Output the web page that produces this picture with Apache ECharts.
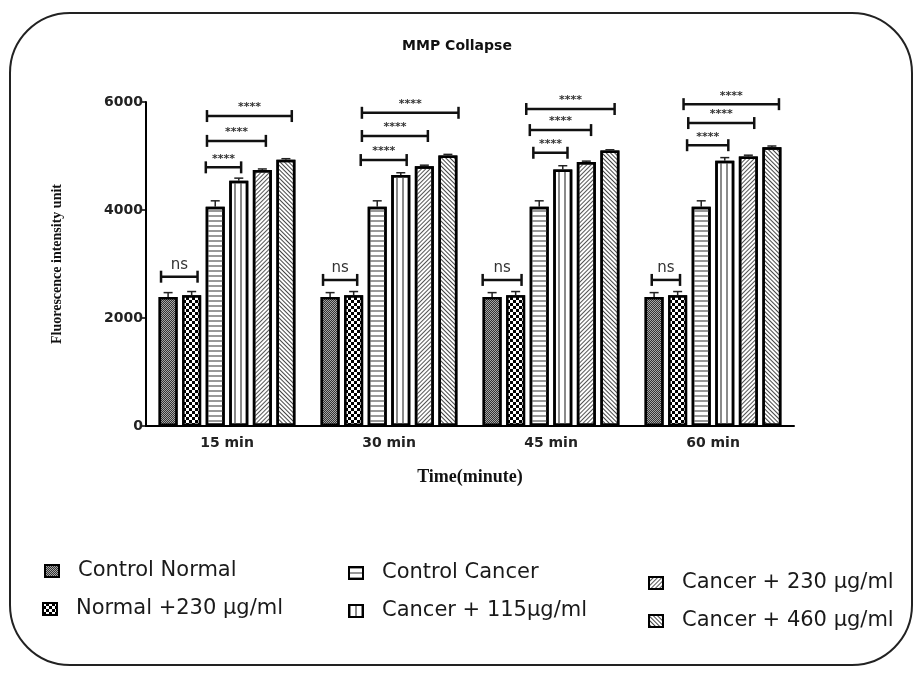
<!DOCTYPE html>
<html>
<head>
<meta charset="utf-8">
<script src="https://cdn.jsdelivr.net/npm/echarts@6/dist/echarts.min.js"></script>
<style>html,body{margin:0;padding:0;background:#fff;}#c{width:914px;height:673px;}</style>
</head>
<body>
<div id="c"></div>
<script>
// ---- data ----
const categories = ['15 min', '30 min', '45 min', '60 min'];
const seriesNames = ['Control Normal', 'Normal +230 \u03bcg/ml', 'Control Cancer', 'Cancer + 115\u03bcg/ml', 'Cancer + 230 \u03bcg/ml', 'Cancer + 460 \u03bcg/ml'];
const controlNormal = [2390, 2390, 2390, 2390];
const normal230 = [2420, 2420, 2420, 2420];
const controlCancer = [4060, 4060, 4060, 4060];
const cancer115 = [4540, 4650, 4750, 4910];
const cancer230 = [4740, 4810, 4890, 4990];
const cancer460 = [4930, 5010, 5100, 5160];
const errControlNormal = [80, 80, 80, 80];
const errNormal230 = [70, 70, 70, 70];
const errControlCancer = [110, 110, 110, 110];
const errCancer115 = [50, 40, 70, 60];
const errCancer230 = [20, 20, 15, 25];
const errCancer460 = [20, 20, 15, 25];
const yTicks = [0, 2000, 4000, 6000];
// significance brackets: group index, start/end (in bar slots), height (y value), label
const bracketGroup = [0, 0, 0, 0, 1, 1, 1, 1, 2, 2, 2, 2, 3, 3, 3, 3];
const bracketFrom = [-0.3, 1.6, 1.65, 1.65, -0.3, 1.3, 1.35, 1.35, -0.4, 1.75, 1.6, 1.45, -0.1, 1.4, 1.45, 1.25];
const bracketTo = [1.25, 3.1, 4.15, 5.25, 1.15, 3.25, 4.15, 5.45, 1.25, 3.2, 4.2, 5.2, 1.1, 3.15, 4.25, 5.3];
const bracketY = [2765, 4790, 5280, 5740, 2705, 4925, 5370, 5800, 2705, 5060, 5480, 5870, 2705, 5200, 5610, 5960];
const bracketText = ['ns', '****', '****', '****', 'ns', '****', '****', '****', 'ns', '****', '****', '****', 'ns', '****', '****', '****'];

const values = [controlNormal, normal230, controlCancer, cancer115, cancer230, cancer460];
const errors = [errControlNormal, errNormal230, errControlCancer, errCancer115, errCancer230, errCancer460];

// ---- styles ----
const BAR_W = 19;
const BAR_GAP = 0.24;
const PITCH = BAR_W * (1 + BAR_GAP);
const decals = [
  { symbol: 'rect', symbolSize: 1, dashArrayX: [[1, 1], [0, 1, 1, 0]], dashArrayY: [1, 0], color: '#333', backgroundColor: '#a8a8a8' },
  { symbol: 'rect', symbolSize: 1, dashArrayX: [[3, 3], [0, 3, 3, 0]], dashArrayY: [3, 0], color: '#000', backgroundColor: '#fff' },
  { symbol: 'rect', symbolSize: 1, dashArrayX: [1, 0], dashArrayY: [2, 3], color: '#999' },
  { symbol: 'rect', symbolSize: 1, dashArrayX: [2, 4], dashArrayY: [1, 0], color: '#8a8a8a' },
  { symbol: 'rect', symbolSize: 1, dashArrayX: [1, 0], dashArrayY: [1, 2], rotation: -Math.PI / 4, color: '#555' },
  { symbol: 'rect', symbolSize: 1, dashArrayX: [1, 0], dashArrayY: [1, 2], rotation: Math.PI / 4, color: '#444' }
];
const legendPos = [[44, 559], [42, 597], [348, 561], [348, 599], [648, 571], [648, 609]];

const barSeries = seriesNames.map((name, i) => ({
  type: 'bar', name: name, data: values[i], barWidth: BAR_W, barGap: (BAR_GAP * 100) + '%',
  itemStyle: { color: '#fff', borderColor: '#000', borderWidth: 2.5, decal: decals[i] },
  z: 2
}));

const errData = [];
values.forEach((arr, s) => arr.forEach((v, g) => errData.push([g, v, errors[s][g], s])));

const bracketData = bracketGroup.map((g, i) => [g, bracketY[i], bracketFrom[i], bracketTo[i]]);

const chart = echarts.init(document.getElementById('c'), null, { renderer: 'canvas' });
chart.setOption({
  animation: false,
  backgroundColor: '#fff',
  title: {
    text: 'MMP Collapse', left: 'center', top: 34,
    textStyle: { fontFamily: 'DejaVu Sans', fontWeight: 'bold', fontSize: 14, color: '#111' }
  },
  legend: seriesNames.map((n, i) => ({
    data: [n], left: legendPos[i][0], top: legendPos[i][1], padding: 0,
    icon: 'rect', itemWidth: 14, itemHeight: 12, selectedMode: false,
    itemStyle: { borderColor: '#000', borderWidth: 2 },
    textStyle: { fontFamily: 'DejaVu Sans', fontSize: 21, color: '#1a1a1a', padding: [0, 0, 0, 14], lineHeight: 24 }
  })),
  graphic: [{
    type: 'rect', shape: { x: 10, y: 13, width: 902, height: 652, r: 60 },
    style: { fill: 'none', stroke: '#222', lineWidth: 2 }, z: -10, silent: true
  }],
  grid: { left: 146, right: 120, top: 102, bottom: 247 },
  xAxis: {
    type: 'category', data: categories,
    name: 'Time(minute)', nameLocation: 'middle', nameGap: 42,
    nameTextStyle: { fontFamily: 'Liberation Serif', fontWeight: 'bold', fontSize: 18, color: '#111' },
    axisLine: { lineStyle: { color: '#000', width: 2 } },
    axisTick: { alignWithLabel: true, length: 5, lineStyle: { color: '#000', width: 1.5 } },
    axisLabel: { fontFamily: 'DejaVu Sans', fontWeight: 'bold', fontSize: 14, color: '#222', margin: 10 }
  },
  yAxis: {
    type: 'value', min: 0, max: 6000, interval: 2000,
    name: 'Fluorescence intensity unit', nameLocation: 'middle', nameGap: 82, nameRotate: 90,
    nameTextStyle: { fontFamily: 'Liberation Serif', fontWeight: 'bold', fontSize: 14, color: '#111' },
    axisLine: { show: true, lineStyle: { color: '#000', width: 2 } },
    axisTick: { show: true, length: 6, lineStyle: { color: '#000', width: 1.5 } },
    axisLabel: { fontFamily: 'DejaVu Sans', fontWeight: 'bold', fontSize: 14, color: '#222', margin: 3,
      formatter: v => yTicks.indexOf(v) >= 0 ? String(v) : '' },
    splitLine: { show: false }
  },
  series: barSeries.concat([
    {
      type: 'custom', name: 'err', z: 3, silent: true,
      data: errData,
      encode: { x: 0, y: 1 },
      renderItem: function (params, api) {
        const g = api.value(0), v = api.value(1), e = api.value(2), s = api.value(3);
        const base = api.coord([g, v]);
        const top = api.coord([g, v + e]);
        const x = base[0] + (s - 2.5) * PITCH;
        return {
          type: 'group', children: [
            { type: 'line', shape: { x1: x, y1: base[1], x2: x, y2: top[1] }, style: { stroke: '#222', lineWidth: 1.5 } },
            { type: 'line', shape: { x1: x - 4.5, y1: top[1], x2: x + 4.5, y2: top[1] }, style: { stroke: '#222', lineWidth: 1.5 } }
          ]
        };
      }
    },
    {
      type: 'custom', name: 'sig', z: 4, silent: true,
      data: bracketData,
      encode: { x: 0, y: 1 },
      renderItem: function (params, api) {
        const c = api.coord([api.value(0), api.value(1)]);
        const x1 = c[0] + (api.value(2) - 2.5) * PITCH;
        const x2 = c[0] + (api.value(3) - 2.5) * PITCH;
        const y = c[1];
        const txt = bracketText[params.dataIndex];
        const isNs = txt === 'ns';
        const ls = { stroke: '#111', lineWidth: 2.5 };
        return {
          type: 'group', children: [
            { type: 'line', shape: { x1: x1, y1: y, x2: x2, y2: y }, style: ls },
            { type: 'line', shape: { x1: x1, y1: y - 6, x2: x1, y2: y + 6 }, style: ls },
            { type: 'line', shape: { x1: x2, y1: y - 6, x2: x2, y2: y + 6 }, style: ls },
            { type: 'text', x: (x1 + x2) / 2, y: isNs ? y - 4 : y - 3,
              style: { text: txt, align: 'center', verticalAlign: 'bottom',
                font: isNs ? '15px "DejaVu Sans"' : 'bold 11px "DejaVu Sans"', fill: '#333' } }
          ]
        };
      }
    }
  ])
});
</script>
</body>
</html>
